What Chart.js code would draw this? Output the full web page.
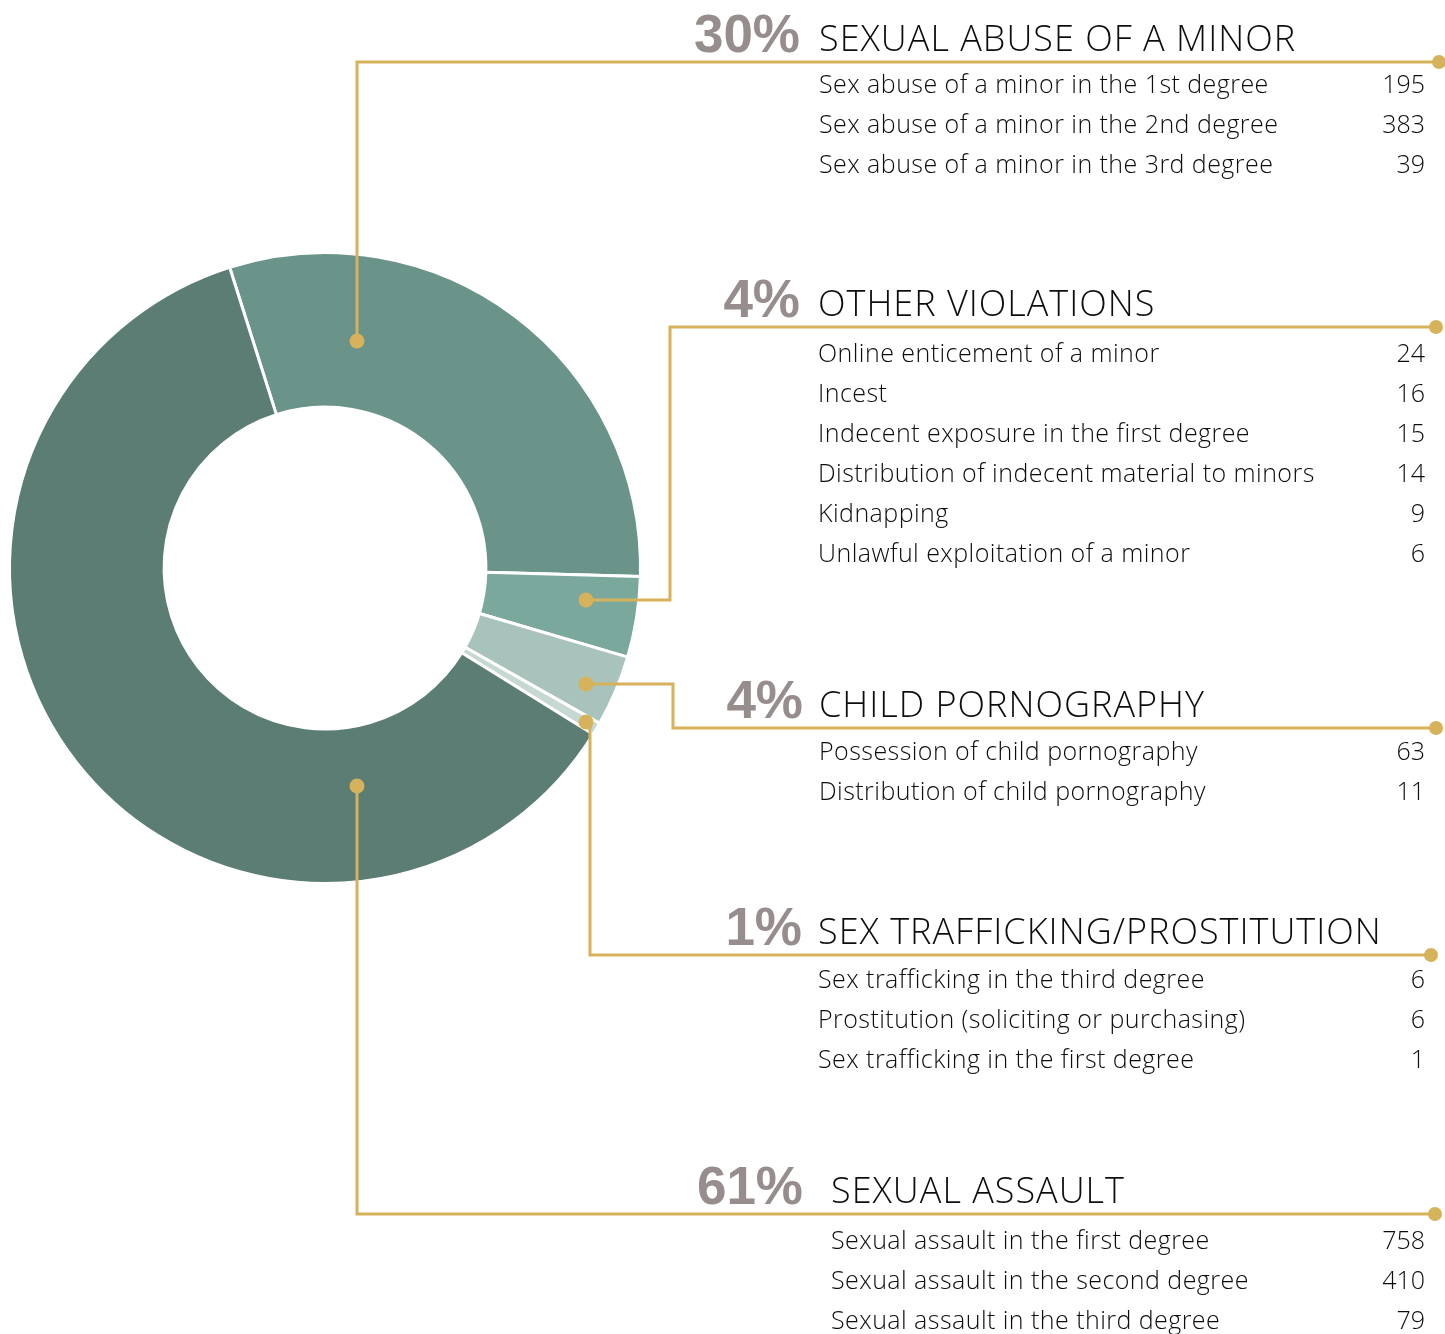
<!DOCTYPE html>
<html>
<head>
<meta charset="utf-8">
<title>Sex offense convictions by category</title>
<script src="https://cdn.jsdelivr.net/npm/chart.js@4.4.1/dist/chart.umd.min.js"></script>
<style>
  html, body { margin: 0; padding: 0; background: #ffffff; }
  #wrap { width: 1445px; height: 1334px; }
</style>
</head>
<body>
<div id="wrap"><canvas id="donut" width="1445" height="1334"></canvas></div>
<script>
// Offense categories, in the order they run clockwise round the ring
const categories = [
  'SEXUAL ABUSE OF A MINOR',
  'OTHER VIOLATIONS',
  'CHILD PORNOGRAPHY',
  'SEX TRAFFICKING/PROSTITUTION',
  'SEXUAL ASSAULT'
];
// Total convictions per category (sum of the offense counts listed below)
const categoryTotals = [617, 84, 74, 13, 1247];
const shareLabels = ['30%', '4%', '4%', '1%', '61%'];
const segmentColors = ['#6a9389', '#7ba89c', '#a8c3bb', '#c6d8d2', '#5b7d73'];

// Offenses within each category
const abuseOffenses = [
  'Sex abuse of a minor in the 1st degree',
  'Sex abuse of a minor in the 2nd degree',
  'Sex abuse of a minor in the 3rd degree'
];
const abuseCounts = [195, 383, 39];

const otherOffenses = [
  'Online enticement of a minor',
  'Incest',
  'Indecent exposure in the first degree',
  'Distribution of indecent material to minors',
  'Kidnapping',
  'Unlawful exploitation of a minor'
];
const otherCounts = [24, 16, 15, 14, 9, 6];

const pornOffenses = [
  'Possession of child pornography',
  'Distribution of child pornography'
];
const pornCounts = [63, 11];

const traffickingOffenses = [
  'Sex trafficking in the third degree',
  'Prostitution (soliciting or purchasing)',
  'Sex trafficking in the first degree'
];
const traffickingCounts = [6, 6, 1];

const assaultOffenses = [
  'Sexual assault in the first degree',
  'Sexual assault in the second degree',
  'Sexual assault in the third degree'
];
const assaultCounts = [758, 410, 79];

const offenseLists = [abuseOffenses, otherOffenses, pornOffenses, traffickingOffenses, assaultOffenses];
const countLists = [abuseCounts, otherCounts, pornCounts, traffickingCounts, assaultCounts];

// Callout placement: anchor dot offset from the ring centre, x of the elbow,
// y of the gold rule, x where the text block starts, end dot x, first row baseline
const calloutLayout = [
  { dot: [32, -227], elbowX: null, ruleY: 62,   textX: 819, pctRight: 800, endX: 1439, rowY: 93 },
  { dot: [261, 32],  elbowX: 670,  ruleY: 327,  textX: 818, pctRight: 800, endX: 1436, rowY: 362 },
  { dot: [261, 116], elbowX: 673,  ruleY: 728,  textX: 819, pctRight: 803, endX: 1436, rowY: 760 },
  { dot: [261, 154], elbowX: 590,  ruleY: 955,  textX: 818, pctRight: 802, endX: 1431, rowY: 988 },
  { dot: [32, 218],  elbowX: null, ruleY: 1214, textX: 831, pctRight: 803, endX: 1435, rowY: 1249 }
];

const GOLD = '#d6b25a';
const TEXT = '#0d0d0d';
const PCT = '#978d8d';
const LIGHT_FONT = '"Open Sans", "Liberation Sans", sans-serif';

const calloutPlugin = {
  id: 'callouts',
  afterDraw(chart) {
    const ctx = chart.ctx;
    const arc = chart.getDatasetMeta(0).data[0];
    const cx = arc.x, cy = arc.y;
    ctx.save();
    calloutLayout.forEach((lay, i) => {
      const dx = cx + lay.dot[0];
      const dy = cy + lay.dot[1];
      const ex = lay.elbowX === null ? dx : lay.elbowX;

      // leader line
      ctx.strokeStyle = GOLD;
      ctx.lineWidth = 3;
      ctx.lineJoin = 'miter';
      ctx.beginPath();
      ctx.moveTo(dx, dy);
      ctx.lineTo(ex, dy);
      ctx.lineTo(ex, lay.ruleY);
      ctx.lineTo(lay.endX, lay.ruleY);
      ctx.stroke();

      // end dots
      ctx.fillStyle = GOLD;
      ctx.beginPath();
      ctx.arc(dx, dy, 7.5, 0, Math.PI * 2);
      ctx.fill();
      ctx.beginPath();
      ctx.arc(lay.endX, lay.ruleY, 7, 0, Math.PI * 2);
      ctx.fill();

      // percentage
      ctx.textBaseline = 'alphabetic';
      ctx.textAlign = 'right';
      ctx.fillStyle = PCT;
      ctx.letterSpacing = '0px';
      ctx.font = 'bold 53px "Liberation Sans", Arial, sans-serif';
      ctx.fillText(shareLabels[i], lay.pctRight, lay.ruleY - 10);

      // heading
      ctx.textAlign = 'left';
      ctx.fillStyle = TEXT;
      ctx.font = '300 36px ' + LIGHT_FONT;
      ctx.letterSpacing = '1px';
      ctx.fillText(categories[i], lay.textX, lay.ruleY - 11);

      // offense rows
      ctx.font = '300 25px ' + LIGHT_FONT;
      offenseLists[i].forEach((name, k) => {
        const y = lay.rowY + k * 40;
        ctx.textAlign = 'left';
        ctx.letterSpacing = '0.45px';
        ctx.fillText(name, lay.textX, y);
        ctx.textAlign = 'right';
        ctx.letterSpacing = '0px';
        ctx.fillText(String(countLists[i][k]), 1425, y);
      });
    });
    ctx.restore();
  }
};

new Chart(document.getElementById('donut'), {
  type: 'doughnut',
  data: {
    labels: categories,
    datasets: [{
      data: categoryTotals,
      backgroundColor: segmentColors,
      borderColor: '#ffffff',
      borderWidth: 3,
      hoverOffset: 0
    }]
  },
  options: {
    responsive: false,
    animation: false,
    rotation: -17.6,
    cutout: '51%',
    layout: { padding: { left: 8, right: 803, top: 251, bottom: 449 } },
    plugins: {
      legend: { display: false },
      tooltip: { enabled: false }
    },
    events: []
  },
  plugins: [calloutPlugin]
});
</script>
</body>
</html>
